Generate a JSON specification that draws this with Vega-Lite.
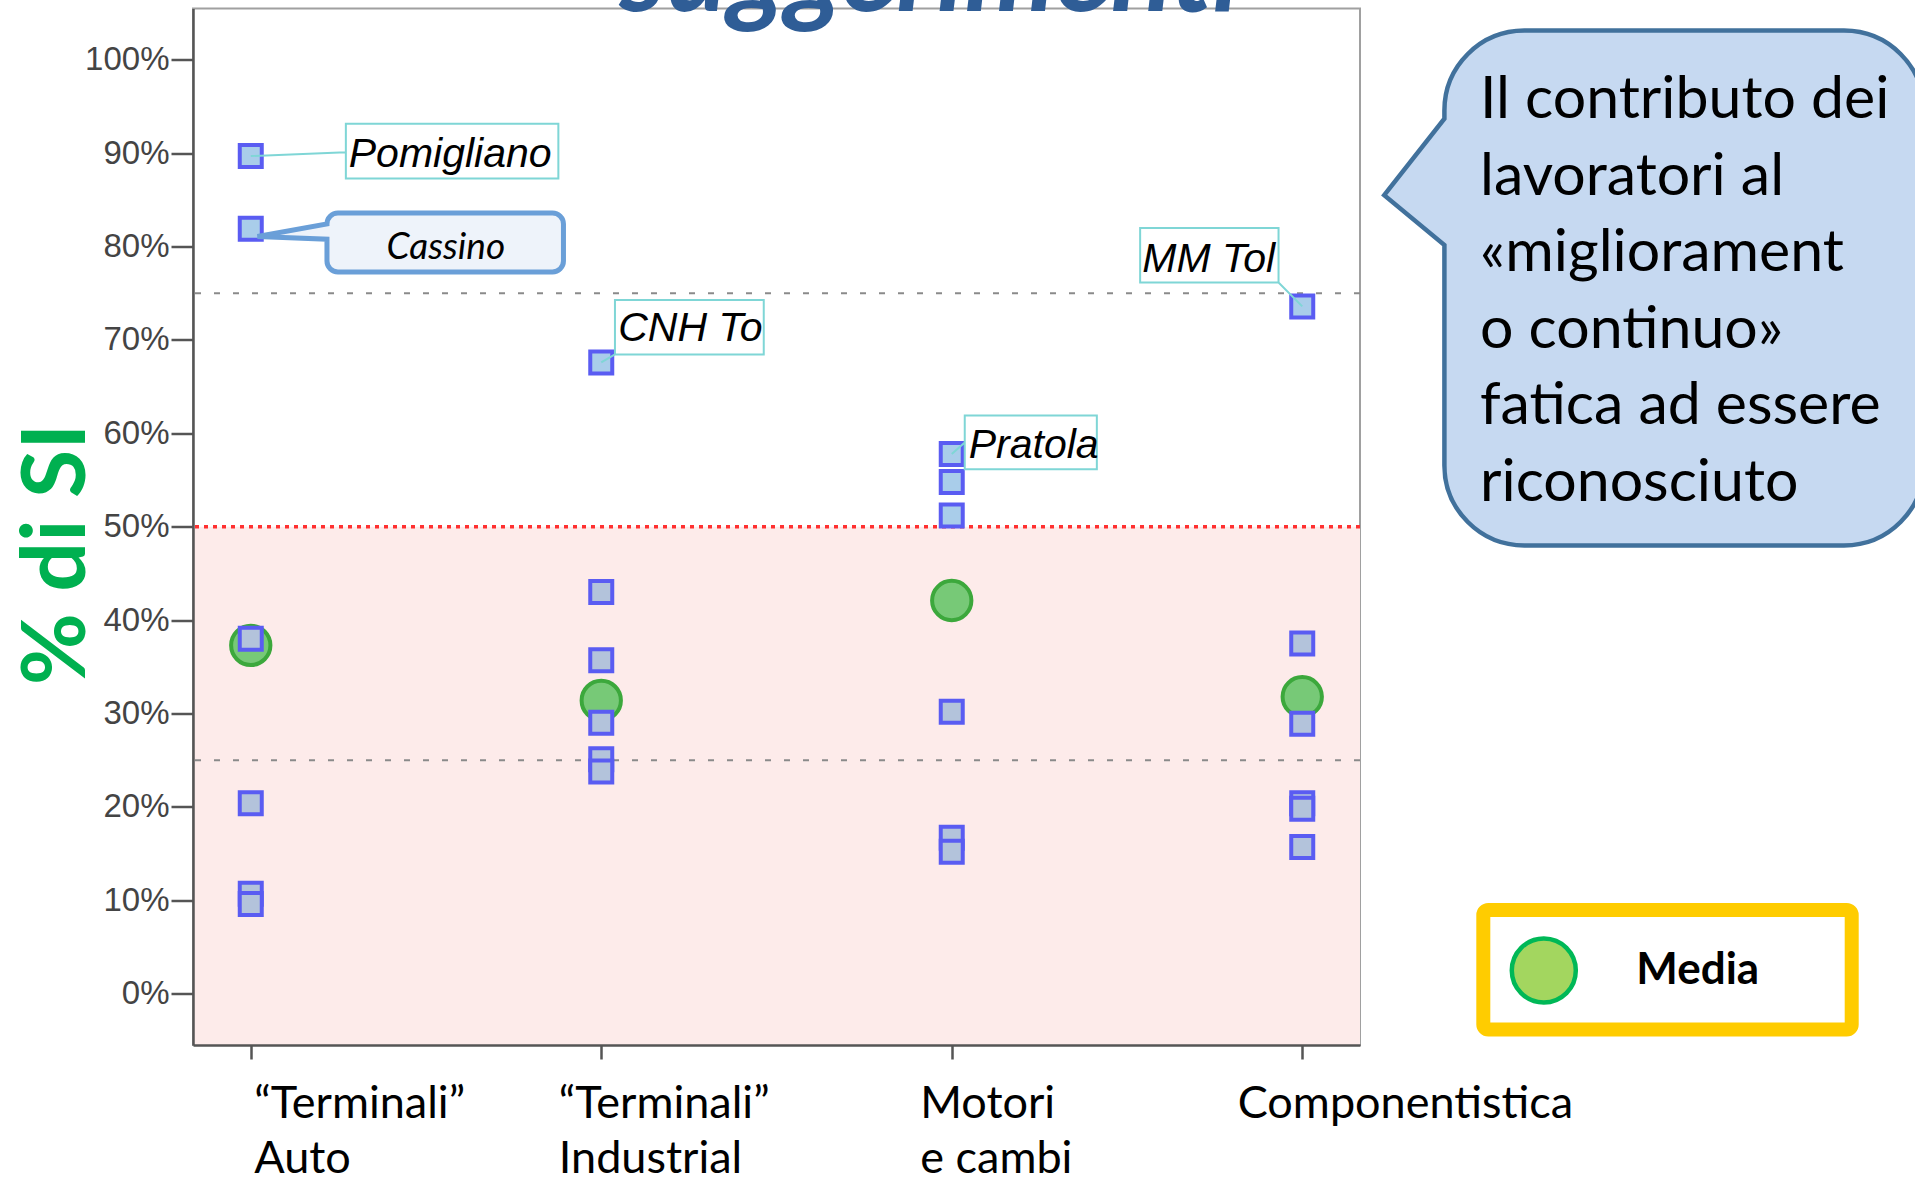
{
  "$schema": "https://vega.github.io/schema/vega-lite/v6.json",
  "width": 1167,
  "height": 1036.5,
  "autosize": {"type": "none"},
  "padding": {"left": 193, "top": 8.5, "right": 555, "bottom": 134},
  "background": "white",
  "datasets": {
    "plants": [
      {"cat": "“Terminali” Auto", "pct": 89.7, "name": "Pomigliano"},
      {"cat": "“Terminali” Auto", "pct": 81.9, "name": "Cassino"},
      {"cat": "“Terminali” Auto", "pct": 38.0, "name": null},
      {"cat": "“Terminali” Auto", "pct": 20.4, "name": null},
      {"cat": "“Terminali” Auto", "pct": 10.7, "name": null},
      {"cat": "“Terminali” Auto", "pct": 9.6, "name": null},
      {"cat": "“Terminali” Industrial", "pct": 67.6, "name": "CNH To"},
      {"cat": "“Terminali” Industrial", "pct": 43.0, "name": null},
      {"cat": "“Terminali” Industrial", "pct": 35.7, "name": null},
      {"cat": "“Terminali” Industrial", "pct": 29.0, "name": null},
      {"cat": "“Terminali” Industrial", "pct": 25.1, "name": null},
      {"cat": "“Terminali” Industrial", "pct": 23.8, "name": null},
      {"cat": "Motori e cambi", "pct": 57.8, "name": "Pratola"},
      {"cat": "Motori e cambi", "pct": 54.8, "name": null},
      {"cat": "Motori e cambi", "pct": 51.2, "name": null},
      {"cat": "Motori e cambi", "pct": 30.2, "name": null},
      {"cat": "Motori e cambi", "pct": 16.7, "name": null},
      {"cat": "Motori e cambi", "pct": 15.2, "name": null},
      {"cat": "Componentistica", "pct": 73.6, "name": "MM Tol"},
      {"cat": "Componentistica", "pct": 37.5, "name": null},
      {"cat": "Componentistica", "pct": 28.9, "name": null},
      {"cat": "Componentistica", "pct": 20.4, "name": null},
      {"cat": "Componentistica", "pct": 19.8, "name": null},
      {"cat": "Componentistica", "pct": 15.7, "name": null}
    ],
    "means": [
      {"cat": "“Terminali” Auto", "pct": 37.3, "stat": "Media"},
      {"cat": "“Terminali” Industrial", "pct": 31.4, "stat": "Media"},
      {"cat": "Motori e cambi", "pct": 42.1, "stat": "Media"},
      {"cat": "Componentistica", "pct": 31.8, "stat": "Media"}
    ],
    "refs": [{"pct": 25}, {"pct": 75}],
    "half": [{"pct": 50}]
  },
  "layer": [
    {
      "layer": [
        {
          "data": {"values": [{}]},
          "mark": {"type": "rect", "color": "#fdebea"},
          "encoding": {
            "y": {
              "datum": 50,
              "type": "quantitative",
              "scale": {"domain": [-5.5, 105.5], "nice": false, "zero": false},
              "axis": {
                "title": "% di SI",
                "zindex": 1,
                "values": [0, 10, 20, 30, 40, 50, 60, 70, 80, 90, 100],
                "labelExpr": "datum.value + '%'",
                "labelFont": "Liberation Sans",
                "labelFontSize": 33,
                "labelColor": "#444444",
                "labelPadding": 2,
                "labelBound": false,
                "labelFlush": false,
                "labelOverlap": false,
                "tickSize": 22,
                "tickWidth": 2.5,
                "tickColor": "#555555",
                "domainColor": "#555555",
                "domainWidth": 2.5,
                "grid": false,
                "titleFont": "Lato",
                "titleFontSize": 88,
                "titleFontWeight": "bold",
                "titleColor": "#00b050",
                "titleAngle": -90,
                "titleX": -109,
                "titleY": 545.5,
                "titleBaseline": "alphabetic",
                "titleAlign": "center"
              }
            },
            "y2": {"datum": -5.5}
          }
        },
        {
          "data": {"name": "refs"},
          "mark": {"type": "rule", "color": "#8a8a8a", "strokeWidth": 2, "strokeDash": [6, 13]},
          "encoding": {
            "y": {"field": "pct", "type": "quantitative", "scale": {"domain": [-5.5, 105.5], "nice": false, "zero": false}}
          }
        },
        {
          "data": {"name": "half"},
          "mark": {"type": "rule", "color": "#ff3030", "strokeWidth": 3.5, "strokeDash": [4, 5]},
          "encoding": {
            "y": {"field": "pct", "type": "quantitative", "scale": {"domain": [-5.5, 105.5], "nice": false, "zero": false}}
          }
        },
        {
          "data": {"name": "means"},
          "mark": {"type": "point", "shape": "circle", "filled": true, "size": 1545, "fill": "#77c977", "stroke": "#3ca83c", "strokeWidth": 4, "opacity": 1},
          "encoding": {
            "x": {
              "field": "cat",
              "type": "nominal",
              "scale": {"type": "point", "padding": 0.1648, "domain": ["“Terminali” Auto", "“Terminali” Industrial", "Motori e cambi", "Componentistica"]},
              "axis": {
                "title": null,
                "zindex": 1,
                "labelAngle": 0,
                "labelFont": "Lato",
                "labelFontSize": 45,
                "labelColor": "black",
                "labelAlign": "left",
                "labelBaseline": "top",
                "labelPadding": 22,
                "labelLineHeight": 55,
                "labelLimit": 1000,
                "labelOverlap": false,
                "labelBound": false,
                "labelFlush": false,
                "labelExpr": "datum.value == 'Componentistica' ? 'Componentistica' : datum.value == 'Motori e cambi' ? ['Motori', 'e cambi'] : ['“Terminali”', substring(datum.value, 12)]",
                "labelOffset": {
                  "condition": [
                    {"test": "indexof(datum.value, 'Industrial') >= 0", "value": -43},
                    {"test": "datum.value == 'Motori e cambi'", "value": -32},
                    {"test": "datum.value == 'Componentistica'", "value": -65}
                  ],
                  "value": 3
                },
                "tickSize": 14,
                "tickWidth": 2.5,
                "tickColor": "#555555",
                "domainColor": "#555555",
                "domainWidth": 2.5,
                "grid": false
              }
            },
            "y": {"field": "pct", "type": "quantitative", "scale": {"domain": [-5.5, 105.5], "nice": false, "zero": false}}
          }
        },
        {
          "data": {"name": "means"},
          "transform": [{"filter": "false"}],
          "mark": {"type": "point", "shape": "circle", "filled": true, "stroke": "#00b857", "strokeWidth": 4.5, "opacity": 1},
          "encoding": {
            "x": {"field": "cat", "type": "nominal", "scale": {"type": "point", "padding": 0.1648, "domain": ["“Terminali” Auto", "“Terminali” Industrial", "Motori e cambi", "Componentistica"]}},
            "y": {"field": "pct", "type": "quantitative", "scale": {"domain": [-5.5, 105.5], "nice": false, "zero": false}},
            "fill": {
              "field": "stat",
              "type": "nominal",
              "scale": {"domain": ["Media"], "range": ["#a3d65f"]},
              "legend": {
                "orient": "none",
                "legendX": 1290.3,
                "legendY": 901.5,
                "title": "Me",
                "titleOrient": "right",
                "titleOpacity": 0,
                "titleColor": "white",
                "titleFont": "Lato",
                "titleFontSize": 44,
                "titleFontWeight": "bold",
                "titlePadding": 6,
                "symbolType": "circle",
                "symbolSize": 4096,
                "symbolStrokeWidth": 4.5,
                "symbolStrokeColor": "#00b857",
                "symbolOpacity": 1,
                "labelFont": "Lato",
                "labelFontSize": 44,
                "labelFontWeight": "bold",
                "labelColor": "black",
                "labelOffset": 58,
                "labelLimit": 1000,
                "padding": 26
              }
            }
          }
        },
        {
          "data": {"name": "plants"},
          "mark": {"type": "point", "shape": "square", "filled": true, "size": 484, "stroke": "#5a5cf2", "strokeWidth": 4, "opacity": 1},
          "encoding": {
            "x": {"field": "cat", "type": "nominal", "scale": {"type": "point", "padding": 0.1648, "domain": ["“Terminali” Auto", "“Terminali” Industrial", "Motori e cambi", "Componentistica"]}},
            "y": {"field": "pct", "type": "quantitative", "scale": {"domain": [-5.5, 105.5], "nice": false, "zero": false}},
            "fill": {"condition": {"test": "datum.pct > 50", "value": "#a9cdea"}, "value": "#b3c3db"}
          }
        },
        {
          "data": {"name": "plants"},
          "transform": [{"filter": "datum.name == 'Pomigliano'"}],
          "encoding": {
            "x": {"field": "cat", "type": "nominal", "scale": {"type": "point", "padding": 0.1648, "domain": ["“Terminali” Auto", "“Terminali” Industrial", "Motori e cambi", "Componentistica"]}},
            "y": {"field": "pct", "type": "quantitative", "scale": {"domain": [-5.5, 105.5], "nice": false, "zero": false}}
          },
          "layer": [
            {"mark": {"type": "point", "shape": "M0,0 L0.951,-0.038 M0.951,-0.322 L3.076,-0.322 L3.076,0.225 L0.951,0.225 Z", "size": 40000, "filled": true, "fill": "white", "stroke": "#7fd6d6", "strokeWidth": 2, "opacity": 1}},
            {"mark": {"type": "text", "align": "left", "baseline": "alphabetic", "dx": 98, "dy": 11, "font": "Liberation Sans", "fontStyle": "italic", "fontSize": 41, "color": "black"}, "encoding": {"text": {"field": "name"}}}
          ]
        },
        {
          "data": {"name": "plants"},
          "transform": [{"filter": "datum.name == 'CNH To'"}],
          "encoding": {
            "x": {"field": "cat", "type": "nominal", "scale": {"type": "point", "padding": 0.1648, "domain": ["“Terminali” Auto", "“Terminali” Industrial", "Motori e cambi", "Componentistica"]}},
            "y": {"field": "pct", "type": "quantitative", "scale": {"domain": [-5.5, 105.5], "nice": false, "zero": false}}
          },
          "layer": [
            {"mark": {"type": "point", "shape": "M0,0 L0.137,-0.08 M0.137,-0.624 L1.625,-0.624 L1.625,-0.08 L0.137,-0.08 Z", "size": 40000, "filled": true, "fill": "white", "stroke": "#7fd6d6", "strokeWidth": 2, "opacity": 1}},
            {"mark": {"type": "text", "align": "left", "baseline": "alphabetic", "dx": 17, "dy": -21, "font": "Liberation Sans", "fontStyle": "italic", "fontSize": 41, "color": "black"}, "encoding": {"text": {"field": "name"}}}
          ]
        },
        {
          "data": {"name": "plants"},
          "transform": [{"filter": "datum.name == 'Pratola'"}],
          "encoding": {
            "x": {"field": "cat", "type": "nominal", "scale": {"type": "point", "padding": 0.1648, "domain": ["“Terminali” Auto", "“Terminali” Industrial", "Motori e cambi", "Componentistica"]}},
            "y": {"field": "pct", "type": "quantitative", "scale": {"domain": [-5.5, 105.5], "nice": false, "zero": false}}
          },
          "layer": [
            {"mark": {"type": "point", "shape": "M0,0 L0.13,-0.115 M0.13,-0.383 L1.451,-0.383 L1.451,0.153 L0.13,0.153 Z", "size": 40000, "filled": true, "fill": "white", "stroke": "#7fd6d6", "strokeWidth": 2, "opacity": 1}},
            {"mark": {"type": "text", "align": "left", "baseline": "alphabetic", "dx": 17, "dy": 4, "font": "Liberation Sans", "fontStyle": "italic", "fontSize": 41, "color": "black"}, "encoding": {"text": {"field": "name"}}}
          ]
        },
        {
          "data": {"name": "plants"},
          "transform": [{"filter": "datum.name == 'MM Tol'"}],
          "encoding": {
            "x": {"field": "cat", "type": "nominal", "scale": {"type": "point", "padding": 0.1648, "domain": ["“Terminali” Auto", "“Terminali” Industrial", "Motori e cambi", "Componentistica"]}},
            "y": {"field": "pct", "type": "quantitative", "scale": {"domain": [-5.5, 105.5], "nice": false, "zero": false}}
          },
          "layer": [
            {"mark": {"type": "point", "shape": "M0,0 L-0.237,-0.238 M-1.621,-0.785 L-0.237,-0.785 L-0.237,-0.238 L-1.621,-0.238 Z", "size": 40000, "filled": true, "fill": "white", "stroke": "#7fd6d6", "strokeWidth": 2, "opacity": 1}},
            {"mark": {"type": "text", "align": "left", "baseline": "alphabetic", "dx": -160, "dy": -34.5, "font": "Liberation Sans", "fontStyle": "italic", "fontSize": 41, "color": "black"}, "encoding": {"text": {"field": "name"}}}
          ]
        },
        {
          "data": {"name": "plants"},
          "transform": [{"filter": "datum.name == 'Cassino'"}],
          "encoding": {
            "x": {"field": "cat", "type": "nominal", "scale": {"type": "point", "padding": 0.1648, "domain": ["“Terminali” Auto", "“Terminali” Industrial", "Motori e cambi", "Componentistica"]}},
            "y": {"field": "pct", "type": "quantitative", "scale": {"domain": [-5.5, 105.5], "nice": false, "zero": false}}
          },
          "layer": [
            {"mark": {"type": "point", "shape": "M0.067,0.076 L0.762,-0.049 C0.762,-0.110 0.811,-0.159 0.872,-0.159 L3.017,-0.159 C3.078,-0.159 3.127,-0.110 3.127,-0.049 L3.127,0.321 C3.127,0.382 3.078,0.431 3.017,0.431 L0.872,0.431 C0.811,0.431 0.762,0.382 0.762,0.321 L0.762,0.103 Z", "size": 40000, "filled": true, "fill": "#eef3fa", "stroke": "#6a9fd8", "strokeWidth": 5, "opacity": 1}},
            {"mark": {"type": "text", "align": "center", "baseline": "alphabetic", "dx": 195, "dy": 30.6, "font": "Lato", "fontStyle": "italic", "fontSize": 37, "color": "black"}, "encoding": {"text": {"field": "name"}}}
          ]
        }
      ]
    },
    {
      "data": {"values": [{}]},
      "layer": [
        {
          "mark": {"type": "point", "shape": "M0,0 L0.602,-0.766 L0.602,-0.846 C0.602,-1.288 0.960,-1.646 1.402,-1.646 L4.598,-1.646 C5.040,-1.646 5.398,-1.288 5.398,-0.846 L5.398,2.702 C5.398,3.144 5.040,3.502 4.598,3.502 L1.402,3.502 C0.960,3.502 0.602,3.144 0.602,2.702 L0.602,0.498 Z", "size": 40000, "filled": true, "fill": "#c6d9f1", "stroke": "#41719c", "strokeWidth": 4.5, "opacity": 1},
          "encoding": {
            "x": {"datum": 1.02074, "type": "quantitative", "scale": {"domain": [0, 1], "nice": false, "zero": false}, "axis": null},
            "y": {"datum": 0.81987, "type": "quantitative", "scale": {"domain": [0, 1], "nice": false, "zero": false}, "axis": null}
          }
        },
        {
          "mark": {"type": "text", "align": "left", "baseline": "alphabetic", "font": "Lato", "fontSize": 59, "lineHeight": 76.5, "color": "black"},
          "encoding": {
            "x": {"datum": 1.10283, "type": "quantitative", "scale": {"domain": [0, 1], "nice": false, "zero": false}, "axis": null},
            "y": {"datum": 0.89388, "type": "quantitative", "scale": {"domain": [0, 1], "nice": false, "zero": false}, "axis": null},
            "text": {"value": ["Il contributo dei", "lavoratori al", "«migliorament", "o continuo»", "fatica ad essere", "riconosciuto"]}
          }
        },
        {
          "mark": {"type": "rect", "fill": "transparent", "stroke": "#ffcc00", "strokeWidth": 14, "cornerRadius": 5},
          "encoding": {
            "x": {"datum": 1.10566, "type": "quantitative", "scale": {"domain": [0, 1], "nice": false, "zero": false}, "axis": null},
            "x2": {"datum": 1.42134},
            "y": {"datum": 0.13024, "type": "quantitative", "scale": {"domain": [0, 1], "nice": false, "zero": false}, "axis": null},
            "y2": {"datum": 0.01495}
          }
        },
        {
          "mark": {"type": "text", "align": "center", "baseline": "alphabetic", "font": "Lato", "fontSize": 114, "fontWeight": "bold", "fontStyle": "italic", "color": "#2f5d96"},
          "encoding": {
            "x": {"datum": 0.6315, "type": "quantitative", "scale": {"domain": [0, 1], "nice": false, "zero": false}, "axis": null},
            "y": {"datum": 0.99711, "type": "quantitative", "scale": {"domain": [0, 1], "nice": false, "zero": false}, "axis": null},
            "text": {"value": "suggerimenti"}
          }
        }
      ]
    }
  ],
  "resolve": {
    "scale": {"x": "independent", "y": "independent"},
    "axis": {"x": "independent", "y": "independent"}
  },
  "config": {
    "view": {"stroke": "#a0a0a0", "strokeWidth": 2}
  }
}
